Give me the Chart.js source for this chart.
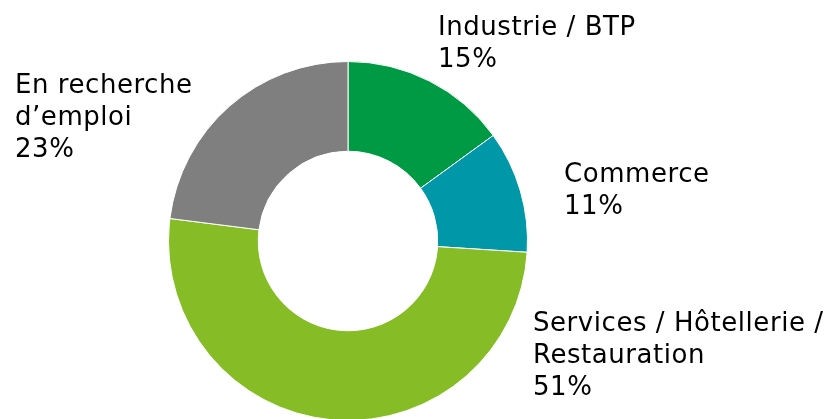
<!DOCTYPE html>
<html>
<head>
<meta charset="utf-8">
<script src="https://cdn.jsdelivr.net/npm/chart.js"></script>
<style>
  html, body { margin: 0; padding: 0; background: #fff; overflow: hidden; }
  #wrap { width: 830px; height: 430px; position: relative; }
</style>
</head>
<body>
<div id="wrap"><canvas id="chart"></canvas></div>
<script>
// Chart data
const categories = ['Industrie / BTP', 'Commerce', 'Services / Hôtellerie / Restauration', 'En recherche d\u2019emploi'];
const values = [15, 11, 51, 23];
const sliceColors = ['#009A44', '#0097A9', '#86BC25', '#7F7F7F'];
// label text split on lines, as printed next to the ring
const labelLines = [
    ['Industrie / BTP'],
    ['Commerce'],
    ['Services / Hôtellerie /', 'Restauration'],
    ['En recherche', 'd\u2019emploi']
];

// where each label block sits (first baseline)
const labelPos = [
    { x: 438, y: 35 },
    { x: 564, y: 182 },
    { x: 533, y: 331 },
    { x: 15, y: 93 }
];

const outsideLabels = {
    id: 'outsideLabels',
    afterDraw(chart) {
        const ctx = chart.ctx;
        ctx.save();
        ctx.font = '26px "DejaVu Sans", Verdana, sans-serif';
        ctx.letterSpacing = '0.55px';
        ctx.fillStyle = '#000';
        ctx.textAlign = 'left';
        ctx.textBaseline = 'alphabetic';
        values.forEach((v, i) => {
            const lines = labelLines[i].concat([v + '%']);
            lines.forEach((line, j) => {
                ctx.fillText(line, labelPos[i].x, labelPos[i].y + j * 32);
            });
        });
        ctx.restore();
    }
};

new Chart(document.getElementById('chart'), {
    type: 'doughnut',
    data: {
        labels: categories,
        datasets: [{
            data: values,
            backgroundColor: sliceColors,
            borderColor: '#ffffff',
            borderWidth: 1
        }]
    },
    options: {
        responsive: true,
        maintainAspectRatio: false,
        animation: false,
        cutout: '50%',
        layout: {
            padding: { left: 168, right: 302, top: 61, bottom: 9 }
        },
        plugins: {
            legend: { display: false },
            tooltip: { enabled: false }
        }
    },
    plugins: [outsideLabels]
});
</script>
</body>
</html>
